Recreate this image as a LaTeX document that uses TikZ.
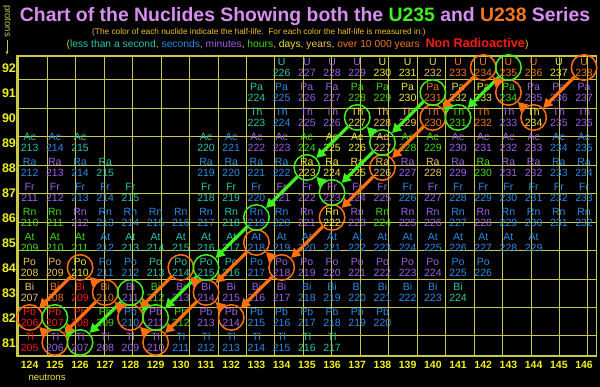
\documentclass[tikz,border=0pt]{standalone}
\usepackage{fontspec}
\setmainfont{Liberation Sans}
\usetikzlibrary{arrows.meta}
\definecolor{hl}{RGB}{40,200,176}   % less than a second
\definecolor{hs}{RGB}{40,140,230}   % seconds
\definecolor{hm}{RGB}{160,96,232}   % minutes
\definecolor{hh}{RGB}{64,220,16}    % hours
\definecolor{hd}{RGB}{240,232,64}   % days
\definecolor{hy}{RGB}{240,196,96}   % years
\definecolor{hx}{RGB}{240,120,32}   % over 10 000 years
\definecolor{nr}{RGB}{255,24,16}    % non radioactive
\definecolor{gridc}{RGB}{200,200,72}
\definecolor{labc}{RGB}{240,240,32}
\definecolor{titc}{RGB}{216,142,240}
\definecolor{gold}{RGB}{240,192,32}
\definecolor{uo}{RGB}{255,112,16}
\definecolor{ug}{RGB}{64,240,32}
\newcommand\nuc[4]{\pgfmathtruncatemacro\mass{#1+#2}%
  \node[nuc,text=#4] (#3\mass) at (#1,#2) {#3\\\mass};}

\begin{document}
\begin{tikzpicture}[x=25.2pt,y=25pt,
  nuc/.style={align=center,inner sep=0pt,yshift=1pt,font=\fontsize{10.5}{10.8}\selectfont},
  ring/.style={circle,minimum size=25.5pt,inner sep=0pt,line width=1.5pt},
  decay/.style={line width=3.2pt,-{Triangle[length=9pt,width=10pt]}},
  lab/.style={text=labc,font=\bfseries\fontsize{10.5}{12}\selectfont}]
\fill[black](122.825,79.26)rectangle(146.635,94.74);
\useasboundingbox(122.825,79.26)rectangle(146.635,94.74);
% title and legend
\node[anchor=base,text=titc,font=\bfseries\fontsize{19.4}{22}\selectfont] (title) at (134.93,93.86)
  {Chart of the Nuclides Showing both the \textcolor{ug}{U235} and \textcolor{hx}{U238} Series};
\node[anchor=base,text=gold,font=\fontsize{8.3}{10}\selectfont] (note) at (133.1,93.34)
  {(The color of each nuclide indicate the half-life.\ \ For each color the half-life is measured in:)};
\node[anchor=base,text=gold,font=\fontsize{10.3}{11}\selectfont] (legend) at (134.63,92.82)
  {(\textcolor{hl}{less than a second}, \textcolor{hs}{seconds}, \textcolor{hm}{minutes}, \textcolor{hh}{hours},
  \textcolor{hd}{days}, \textcolor{hy}{years}, \textcolor{hx}{over 10 000 years}\ \ \textcolor{nr}{\bfseries\fontsize{12.7}{12}\selectfont Non Radioactive})};
% axes
\draw[gridc,line width=.8pt,shift={(.5,.5)}](123,80)grid(146,92);
\draw[gridc,line width=1.5pt](123.5,80.5)rectangle(146.5,92.5);
\foreach \z in {81,...,92} \node[lab,font=\bfseries\fontsize{12.5}{12}\selectfont] (z\z) at (123.18,\z) {\z};
\foreach \n in {124,...,146} \node[lab] (n\n) at (\n,80.14) {\n};
\node[text=hd,font=\fontsize{9.5}{10}\selectfont] (neut) at (124.69,79.62) {neutrons};
\node[text=gridc,font=\fontsize{9.5}{10}\selectfont,rotate=-90] (prot) at (123.1,93.9) {protons};
\coordinate (protend) at (123.1,92.55);
\draw[gridc,line width=.8pt,-{Stealth[length=4pt]}](prot)--(protend);
% nuclides
\foreach \n/\c in {134/hl,135/hm,136/hm,137/hm,138/hd,139/hd,140/hy,141/hx,142/hx,143/hx,144/hx,145/hd,146/hx}{\nuc{\n}{92}{U}{\c}}
\foreach \n/\c in {133/hl,134/hs,135/hm,136/hm,137/hh,138/hh,139/hd,140/hx,141/hd,142/hd,143/hh,144/hm,145/hm,146/hm}{\nuc{\n}{91}{Pa}{\c}}
\foreach \n/\c in {133/hl,134/hs,135/hm,136/hm,137/hd,138/hy,139/hy,140/hx,141/hh,142/hx,143/hm,144/hd,145/hm,146/hm}{\nuc{\n}{90}{Th}{\c}}
\foreach \n/\c in {124/hl,125/hs,126/hl,131/hl,132/hs,133/hm,134/hm,135/hh,136/hd,137/hd,138/hy,139/hh,140/hh,141/hm,142/hm,143/hm,144/hm,145/hs,146/hs}{\nuc{\n}{89}{Ac}{\c}}
\foreach \n/\c in {124/hs,125/hm,126/hs,127/hl,131/hs,132/hs,133/hs,134/hs,135/hd,136/hd,137/hd,138/hy,139/hm,140/hy,141/hm,142/hh,143/hm,144/hm,145/hs,146/hs}{\nuc{\n}{88}{Ra}{\c}}
\foreach \n/\c in {124/hm,125/hm,126/hs,127/hs,128/hl,131/hl,132/hl,133/hs,134/hm,135/hm,136/hm,137/hm,138/hm,139/hs,140/hm,141/hs,142/hs,143/hs,144/hs,145/hs,146/hs}{\nuc{\n}{87}{Fr}{\c}}
\foreach \n/\c in {124/hh,125/hh,126/hm,127/hs,128/hs,129/hs,130/hs,131/hs,132/hl,133/hs,134/hs,135/hm,136/hd,137/hm,138/hh,139/hm,140/hm,141/hs,142/hm,143/hs,144/hs,145/hs,146/hs}{\nuc{\n}{86}{Rn}{\c}}
\foreach \n/\c in {124/hh,125/hh,126/hh,127/hs,128/hl,129/hl,130/hl,131/hl,132/hl,133/hs,134/hs,135/hs,136/hs,137/hs,138/hs,139/hs,140/hs,141/hs,142/hs,143/hs,144/hs}{\nuc{\n}{85}{At}{\c}}
\foreach \n/\c in {124/hy,125/hy,126/hd,127/hs,128/hs,129/hl,130/hl,131/hl,132/hl,133/hs,134/hm,135/hm,136/hm,137/hm,138/hm,139/hm,140/hm,141/hs,142/hs}{\nuc{\n}{84}{Po}{\c}}
\foreach \n/\c in {124/hy,125/hx,126/nr,127/hx,128/hm,129/hh,130/hm,131/hm,132/hm,133/hm,134/hm,135/hs,136/hs,137/hs,138/hs,139/hs,140/hs,141/hl}{\nuc{\n}{83}{Bi}{\c}}
\foreach \n/\c in {124/nr,125/nr,126/nr,127/hh,128/hs,129/hm,130/hh,131/hm,132/hm,133/hs,134/hs,135/hs,136/hs,137/hs,138/hs}{\nuc{\n}{82}{Pb}{\c}}
\foreach \n/\c in {124/nr,125/hm,126/hm,127/hm,128/hm,129/hm,130/hs,131/hs,132/hs,133/hs,134/hs,135/hl,136/hl}{\nuc{\n}{81}{Tl}{\c}}
% decay series
\foreach \r in {U238,Th234,Pa234,U234,Th230,Ra226,Rn222,Po218,At218,Pb214,Bi214,Po214,Tl210,Pb210,Bi210,Po210,Tl206,Pb206}
  \node[ring,draw=uo] (r\r) at (\r) {};
\foreach \r in {U235,Th231,Pa231,Ac227,Th227,Fr223,Ra223,Rn219,Po215,Pb211,Bi211,Tl207,Pb207}
  \node[ring,draw=ug] (r\r) at (\r) {};
\foreach \a/\b in {U235/Th231,Th231/Pa231,Pa231/Ac227,Ac227/Th227,Ac227/Fr223,Th227/Ra223,Fr223/Ra223,Ra223/Rn219,
  Rn219/Po215,Po215/Pb211,Pb211/Bi211,Bi211/Tl207,Tl207/Pb207}
  \draw[decay,ug](r\a)--(r\b);
\foreach \a/\b in {U238/Th234,Th234/Pa234,Pa234/U234,U234/Th230,Th230/Ra226,Ra226/Rn222,Rn222/Po218,Po218/Pb214,
  Po218/At218,At218/Bi214,Pb214/Bi214,Bi214/Po214,Bi214/Tl210,Po214/Pb210,Tl210/Pb210,Pb210/Bi210,Bi210/Po210,
  Bi210/Tl206,Po210/Pb206,Tl206/Pb206}
  \draw[decay,uo](r\a)--(r\b);
\end{tikzpicture}
\end{document}
